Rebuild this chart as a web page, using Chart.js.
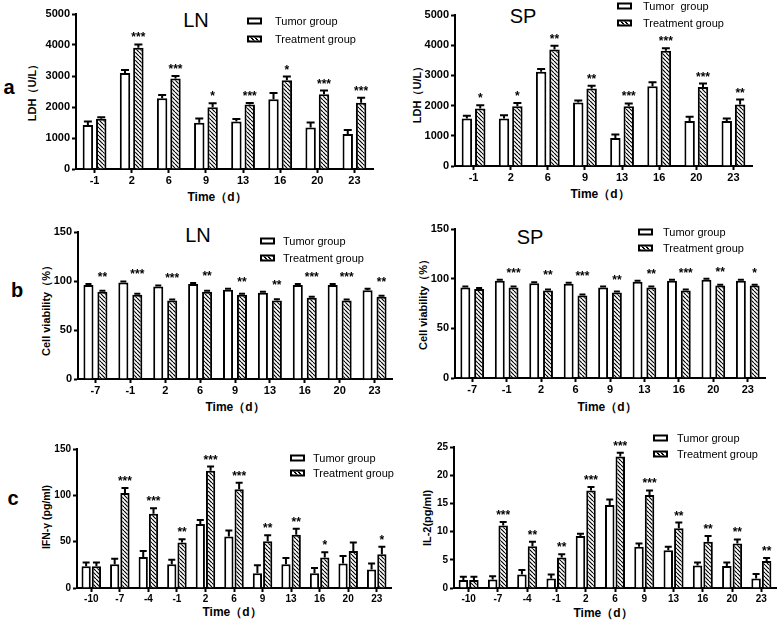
<!DOCTYPE html>
<html>
<head>
<meta charset="utf-8">
<script src="https://cdn.jsdelivr.net/npm/chart.js@4.4.0/dist/chart.umd.min.js"></script>
<style>
    body { margin: 0; width: 778px; height: 620px; background: #fff; position: relative; overflow: hidden;
           font-family: "Liberation Sans", Arial, sans-serif; color: #000; }
    canvas { position: absolute; }
    .t { position: absolute; white-space: pre; line-height: 1; transform: translate(-50%, -50%); }
    .v { transform: translate(-50%, -50%) rotate(-90deg); }
    .b { font-weight: bold; }
    .letter { font-size: 20px; font-weight: bold; }
    .title { font-size: 20px; }
    .xt { font-size: 12px; font-weight: bold; }
    .leg { position: absolute; font-size: 11px; line-height: 1; white-space: pre; transform: translateY(-50%); }
    .box { position: absolute; width: 11px; height: 3px; border: 2px solid #000; background: #fff; transform: translateY(-50%); }
    .box.hatch { background: repeating-linear-gradient(45deg, #000 0 1px, #fff 1px 3px); }
</style>
</head>
<body>

<div class="t letter" style="left:9px;top:87px">a</div>
<div class="t letter" style="left:17px;top:290px">b</div>
<div class="t letter" style="left:13px;top:498px">c</div>

<div class="t title" style="left:196px;top:20px">LN</div>
<div class="t title" style="left:523px;top:16px">SP</div>
<div class="t title" style="left:198px;top:235px">LN</div>
<div class="t title" style="left:530px;top:237px">SP</div>

<div class="t v b" style="left:32px;top:90px;font-size:11px">LDH（U/L）</div>
<div class="t v b" style="left:417px;top:92px;font-size:11px">LDH（U/L）</div>
<div class="t v b" style="left:46px;top:308px;font-size:11px">Cell viability（%）</div>
<div class="t v b" style="left:423px;top:302px;font-size:11px">Cell viability（%）</div>
<div class="t v b" style="left:46px;top:517px;font-size:10.5px">IFN-γ (pg/ml)</div>
<div class="t v b" style="left:427px;top:518px;font-size:11px">IL-2(pg/ml)</div>

<div class="t xt" style="left:217px;top:197px">Time（d）</div>
<div class="t xt" style="left:600px;top:194px">Time（d）</div>
<div class="t xt" style="left:235px;top:407px">Time（d）</div>
<div class="t xt" style="left:607px;top:407px">Time（d）</div>
<div class="t xt" style="left:232px;top:612px">Time（d）</div>
<div class="t xt" style="left:603px;top:613px">Time（d）</div>

<canvas id="ldhLn"></canvas>
<canvas id="ldhSp"></canvas>
<canvas id="viaLn"></canvas>
<canvas id="viaSp"></canvas>
<canvas id="ifnLn"></canvas>
<canvas id="il2Sp"></canvas>

<script>
// ---- data ----
const ldhDays = ['-1', '2', '6', '9', '13', '16', '20', '23'];
const viaDays = ['-7', '-1', '2', '6', '9', '13', '16', '20', '23'];
const cytDays = ['-10', '-7', '-4', '-1', '2', '6', '9', '13', '16', '20', '23'];

// a: LDH (U/L)
const ldhLnTumor = [1420, 3100, 2280, 1490, 1530, 2250, 1340, 1130];
const ldhLnTumorErr = [110, 90, 110, 140, 80, 200, 160, 130];
const ldhLnTreat = [1620, 3910, 2920, 1990, 2080, 2860, 2410, 2140];
const ldhLnTreatErr = [50, 110, 80, 130, 50, 120, 120, 160];
const ldhLnStars = ['', '***', '***', '*', '***', '*', '***', '***'];

const ldhSpTumor = [1570, 1570, 3120, 2100, 930, 2640, 1490, 1490];
const ldhSpTumorErr = [90, 110, 90, 70, 110, 130, 140, 80];
const ldhSpTreat = [1900, 1980, 3860, 2570, 1980, 3820, 2620, 2040];
const ldhSpTreatErr = [110, 110, 120, 90, 90, 80, 110, 160];
const ldhSpStars = ['*', '*', '**', '**', '***', '***', '***', '**'];

// b: cell viability (%)
const viaLnTumor = [96, 98.5, 94.5, 97, 91, 88, 96, 96, 90.5];
const viaLnTumorErr = [1, 1, 1, 1, 1, 1, 1, 1, 1.5];
const viaLnTreat = [89, 86, 80, 89, 86, 80, 83, 80, 84];
const viaLnTreatErr = [1, 1, 1, 1, 1, 1.5, 1, 1, 1];
const viaLnStars = ['**', '***', '***', '**', '**', '**', '***', '***', '**'];

const viaSpTumor = [91, 98, 95.5, 95, 91, 97, 98, 99, 98];
const viaSpTumorErr = [1, 1, 1, 1, 1, 1, 1, 1, 1];
const viaSpTreat = [89.5, 91, 88, 83, 86, 91, 88, 93, 93];
const viaSpTreatErr = [1, 1, 1, 1, 1, 1, 1, 1, 1];
const viaSpStars = ['', '***', '**', '***', '**', '**', '***', '**', '*'];

// c: IFN-γ and IL-2 (pg/ml)
const ifnTumor = [23.5, 25.5, 33.5, 25.5, 69, 55.5, 16, 25.5, 16, 26.5, 20];
const ifnTumorErr = [4, 6, 6.5, 5, 4.5, 6.5, 8.5, 7, 5.5, 8, 6.5];
const ifnTreat = [23.5, 102.5, 80, 49, 126.5, 106.5, 50.5, 57.5, 33, 40, 36.5];
const ifnTreatErr = [4, 5.5, 6, 3.5, 4.5, 7, 6.5, 6.5, 5.5, 9, 8];
const ifnStars = ['', '***', '***', '**', '***', '***', '**', '**', '*', '', '*'];

const il2Tumor = [1.4, 1.5, 2.4, 1.7, 9.2, 14.7, 7.3, 6.7, 4.0, 3.9, 1.7];
const il2TumorErr = [0.6, 0.6, 0.8, 0.7, 0.4, 1.0, 0.6, 0.6, 0.5, 0.6, 0.8];
const il2Treat = [1.4, 11.1, 7.4, 5.4, 17.3, 23.3, 16.5, 10.6, 8.2, 7.9, 4.8];
const il2TreatErr = [0.6, 0.6, 0.8, 0.6, 0.6, 0.7, 0.8, 1.0, 1.0, 0.7, 0.5];
const il2Stars = ['', '***', '**', '**', '***', '***', '***', '**', '**', '**', '**'];

const seriesNames = ['Tumor group', 'Treatment group'];

// ---- helpers ----
const YW = 45, XH = 26, PT = 10, PR = 4;
const FONT = '"Liberation Sans", Arial, sans-serif';

function hatchPattern() {
    const c = document.createElement('canvas');
    c.width = c.height = 4;
    const g = c.getContext('2d');
    g.fillStyle = '#fff';
    g.fillRect(0, 0, 4, 4);
    g.strokeStyle = '#000';
    g.lineWidth = 1.2;
    g.beginPath();
    for (let k = -1; k <= 1; k++) {
        g.moveTo(k * 4, 0);
        g.lineTo(k * 4 + 4, 4);
    }
    g.stroke();
    return g.createPattern(c, 'repeat');
}

// error bars (upper only) and significance stars
const errStars = {
    id: 'errStars',
    afterDatasetsDraw(chart, args, opts) {
        const ctx = chart.ctx;
        const y = chart.scales.y;
        ctx.save();
        ctx.strokeStyle = '#000';
        ctx.lineWidth = 2;
        opts.errors.forEach((errs, di) => {
            const vals = chart.data.datasets[di].data;
            chart.getDatasetMeta(di).data.forEach((bar, i) => {
                const top = y.getPixelForValue(vals[i] + errs[i]);
                ctx.beginPath();
                ctx.moveTo(bar.x, bar.y);
                ctx.lineTo(bar.x, top);
                ctx.moveTo(bar.x - opts.cap, top);
                ctx.lineTo(bar.x + opts.cap, top);
                ctx.stroke();
            });
        });

        const d0 = chart.data.datasets[0].data, d1 = chart.data.datasets[1].data;
        const e0 = opts.errors[0], e1 = opts.errors[1];
        const treatBars = chart.getDatasetMeta(1).data;
        ctx.fillStyle = '#000';
        ctx.font = 'bold 12px ' + FONT;
        ctx.textAlign = 'center';
        ctx.textBaseline = 'alphabetic';
        opts.stars.forEach((s, i) => {
            if (!s) return;
            const hi = Math.max(d0[i] + e0[i], d1[i] + e1[i]);
            ctx.fillText(s, treatBars[i].x, y.getPixelForValue(hi) - 3);
        });
        ctx.restore();
    }
};

function addLegend(boxX, y1, y2, textX, spaced) {
    const names = spaced ? ['Tumor  group', seriesNames[1]] : seriesNames;
    [y1, y2].forEach((y, i) => {
        const box = document.createElement('div');
        box.className = 'box' + (i === 1 ? ' hatch' : '');
        box.style.left = boxX + 'px';
        box.style.top = y + 'px';
        document.body.appendChild(box);
        const txt = document.createElement('div');
        txt.className = 'leg';
        txt.style.left = textX + 'px';
        txt.style.top = y + 'px';
        txt.textContent = names[i];
        document.body.appendChild(txt);
    });
}

function drawPanel(p) {
    const canvas = document.getElementById(p.id);
    canvas.width = (p.R - p.L) + YW + PR;
    canvas.height = (p.B - p.T) + PT + XH;
    canvas.style.left = (p.L - YW) + 'px';
    canvas.style.top = (p.T - PT) + 'px';

    const tickFont = { family: FONT, size: p.fontSize, weight: 'bold' };
    const axisGrid = { display: true, drawOnChartArea: false, tickLength: 4, tickColor: '#000', tickWidth: 2 };
    const axisBorder = { color: '#000', width: 2 };

    new Chart(canvas.getContext('2d'), {
        type: 'bar',
        data: {
            labels: p.labels,
            datasets: [{
                label: seriesNames[0],
                data: p.tumor,
                backgroundColor: '#fff',
                borderColor: '#000',
                borderWidth: 2,
                categoryPercentage: p.cp,
                barPercentage: p.bp
            }, {
                label: seriesNames[1],
                data: p.treat,
                backgroundColor: hatchPattern(),
                borderColor: '#000',
                borderWidth: 2,
                categoryPercentage: p.cp,
                barPercentage: p.bp
            }]
        },
        options: {
            responsive: false,
            animation: false,
            devicePixelRatio: 1,
            layout: { padding: { top: PT, right: PR, left: 0, bottom: 0 } },
            plugins: {
                legend: { display: false },
                tooltip: { enabled: false },
                errStars: { errors: [p.tumorErr, p.treatErr], stars: p.stars, cap: p.cap }
            },
            scales: {
                x: {
                    afterFit: s => { s.height = XH; },
                    grid: Object.assign({ offset: false }, axisGrid),
                    border: axisBorder,
                    ticks: { color: '#000', font: tickFont, padding: 1, maxRotation: 0, autoSkip: false }
                },
                y: {
                    min: 0,
                    max: p.max,
                    afterFit: s => { s.width = YW; },
                    grid: axisGrid,
                    border: axisBorder,
                    ticks: { stepSize: p.step, color: '#000', font: tickFont, padding: 2, callback: v => String(v) }
                }
            }
        },
        plugins: [errStars]
    });
}

drawPanel({ id: 'ldhLn', L: 76, R: 373, T: 14, B: 169, labels: ldhDays,
    tumor: ldhLnTumor, tumorErr: ldhLnTumorErr, treat: ldhLnTreat, treatErr: ldhLnTreatErr, stars: ldhLnStars,
    max: 5000, step: 1000, fontSize: 11, cp: 0.72, bp: 0.78, cap: 4 });
drawPanel({ id: 'ldhSp', L: 455, R: 752, T: 15, B: 166, labels: ldhDays,
    tumor: ldhSpTumor, tumorErr: ldhSpTumorErr, treat: ldhSpTreat, treatErr: ldhSpTreatErr, stars: ldhSpStars,
    max: 5000, step: 1000, fontSize: 11, cp: 0.72, bp: 0.78, cap: 4 });
drawPanel({ id: 'viaLn', L: 78, R: 392, T: 232, B: 379, labels: viaDays,
    tumor: viaLnTumor, tumorErr: viaLnTumorErr, treat: viaLnTreat, treatErr: viaLnTreatErr, stars: viaLnStars,
    max: 150, step: 50, fontSize: 11, cp: 0.8, bp: 0.72, cap: 3 });
drawPanel({ id: 'viaSp', L: 455, R: 765, T: 229, B: 378, labels: viaDays,
    tumor: viaSpTumor, tumorErr: viaSpTumorErr, treat: viaSpTreat, treatErr: viaSpTreatErr, stars: viaSpStars,
    max: 150, step: 50, fontSize: 11, cp: 0.8, bp: 0.72, cap: 3 });
drawPanel({ id: 'ifnLn', L: 77, R: 391, T: 449, B: 588, labels: cytDays,
    tumor: ifnTumor, tumorErr: ifnTumorErr, treat: ifnTreat, treatErr: ifnTreatErr, stars: ifnStars,
    max: 150, step: 50, fontSize: 10, cp: 0.72, bp: 0.9, cap: 3.5 });
drawPanel({ id: 'il2Sp', L: 454, R: 776, T: 447, B: 588, labels: cytDays,
    tumor: il2Tumor, tumorErr: il2TumorErr, treat: il2Treat, treatErr: il2TreatErr, stars: il2Stars,
    max: 25, step: 5, fontSize: 10, cp: 0.72, bp: 0.9, cap: 3.5 });

addLegend(247, 21, 39, 275, false);
addLegend(617, 6, 23, 643, true);
addLegend(260, 241, 258, 283, false);
addLegend(638, 232, 248, 663, false);
addLegend(290, 458, 473, 313, false);
addLegend(653, 438, 454, 677, false);
</script>
</body>
</html>
